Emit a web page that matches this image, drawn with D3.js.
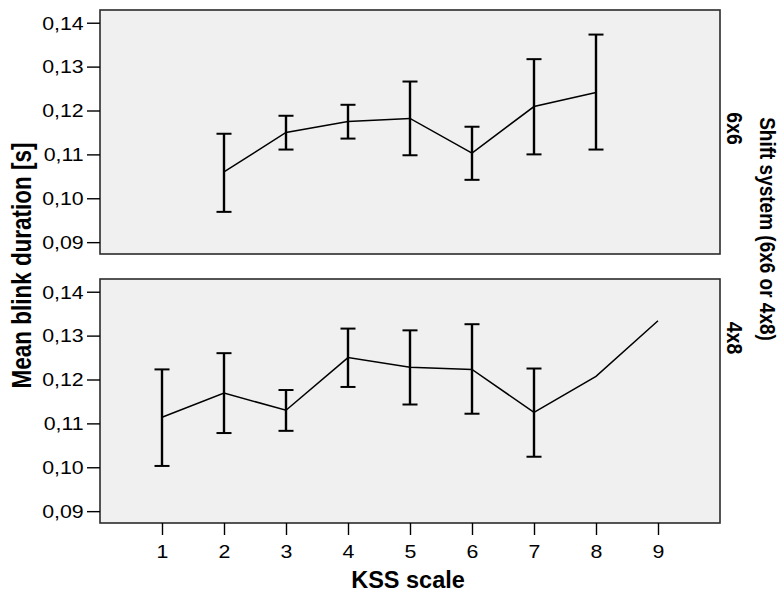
<!DOCTYPE html>
<html>
<head>
<meta charset="utf-8">
<script src="https://cdn.jsdelivr.net/npm/d3@7"></script>
<style>
  body { margin: 0; background: #fff; }
  svg text { font-family: "Liberation Sans", Arial, sans-serif; fill: #000; }
</style>
</head>
<body>
<div id="chart"></div>
<script>
// KSS levels and means / 95% CI per shift system
var kss = [1, 2, 3, 4, 5, 6, 7, 8, 9];
var yTicks = [0.09, 0.10, 0.11, 0.12, 0.13, 0.14];

var kss6x6   = [2, 3, 4, 5, 6, 7, 8];
var mean6x6  = [0.1060, 0.1150, 0.1175, 0.1182, 0.1103, 0.1209, 0.1241];
var lo6x6    = [0.0969, 0.1111, 0.1136, 0.1098, 0.1042, 0.1100, 0.1111];
var hi6x6    = [0.1147, 0.1188, 0.1213, 0.1266, 0.1163, 0.1317, 0.1373];

var kss4x8   = [1, 2, 3, 4, 5, 6, 7, 8, 9];
var mean4x8  = [0.1114, 0.1169, 0.1130, 0.1250, 0.1228, 0.1223, 0.1125, 0.1207, 0.1334];
var lo4x8    = [0.1003, 0.1078, 0.1083, 0.1183, 0.1143, 0.1122, 0.1024, null, null];
var hi4x8    = [0.1223, 0.1260, 0.1176, 0.1316, 0.1312, 0.1326, 0.1225, null, null];

var width = 780, height = 594;
var plotLeft = 100, plotRight = 720;
var panels = [
  {name: '6x6', top: 10, bottom: 254, labelY: 128.5, k: kss6x6, m: mean6x6, lo: lo6x6, hi: hi6x6},
  {name: '4x8', top: 279, bottom: 523, labelY: 338, k: kss4x8, m: mean4x8, lo: lo4x8, hi: hi4x8}
];

var comma = d3.formatLocale({decimal: ',', thousands: '.', grouping: [3], currency: ['', '']});
var fmt = comma.format('.2f');

var svg = d3.select('#chart').append('svg')
  .attr('width', width)
  .attr('height', height);

var x = d3.scaleLinear().domain([0, 10]).range([plotLeft, plotRight]);

panels.forEach(function(p, idx) {
  var y = d3.scaleLinear().domain([0.0873, 0.1429]).range([p.bottom, p.top]);

  svg.append('rect')
    .attr('x', plotLeft)
    .attr('y', p.top)
    .attr('width', plotRight - plotLeft)
    .attr('height', p.bottom - p.top)
    .attr('fill', '#f0f0f0')
    .attr('stroke', '#2b2b2b')
    .attr('stroke-width', 1.6);

  var yAxis = svg.append('g')
    .attr('transform', 'translate(' + plotLeft + ',0)')
    .call(d3.axisLeft(y).tickValues(yTicks).tickSize(13).tickFormat(fmt));
  yAxis.select('.domain').remove();
  yAxis.selectAll('.tick line').attr('stroke', '#000').attr('stroke-width', 1.4);
  yAxis.selectAll('.tick text')
    .attr('x', 0)
    .attr('dy', '0.36em')
    .attr('transform', 'translate(-16.3,0) scale(1.22,1)')
    .style('font-size', '17.5px');

  // mean line
  var pts = p.k.map(function(k, i) { return {k: k, m: p.m[i], lo: p.lo[i], hi: p.hi[i]}; });
  var line = d3.line()
    .x(function(d) { return x(d.k); })
    .y(function(d) { return y(d.m); });

  svg.append('path')
    .datum(pts)
    .attr('d', line)
    .attr('fill', 'none')
    .attr('stroke', '#000')
    .attr('stroke-width', 1.5);

  var bars = svg.append('g').selectAll('g')
    .data(pts.filter(function(d) { return d.lo !== null; }))
    .enter().append('g')
    .attr('stroke', '#000');

  bars.append('line')
    .attr('x1', function(d) { return x(d.k); })
    .attr('x2', function(d) { return x(d.k); })
    .attr('y1', function(d) { return y(d.lo); })
    .attr('y2', function(d) { return y(d.hi); })
    .attr('stroke-width', 2.4);

  ['lo', 'hi'].forEach(function(key) {
    bars.append('line')
      .attr('x1', function(d) { return x(d.k) - 7.5; })
      .attr('x2', function(d) { return x(d.k) + 7.5; })
      .attr('y1', function(d) { return y(d[key]); })
      .attr('y2', function(d) { return y(d[key]); })
      .attr('stroke-width', 2);
  });

  svg.append('text')
    .attr('transform', 'translate(735,' + p.labelY + ') rotate(90) scale(1,1.1)')
    .attr('text-anchor', 'middle')
    .attr('dy', '0.35em')
    .style('font-size', '19.5px')
    .style('font-weight', 'bold')
    .text(p.name);

  if (idx === 1) {
    var xAxis = svg.append('g')
      .attr('transform', 'translate(0,' + p.bottom + ')')
      .call(d3.axisBottom(x).tickValues(kss).tickSize(12).tickFormat(d3.format('d')));
    xAxis.select('.domain').remove();
    xAxis.selectAll('.tick line').attr('stroke', '#000').attr('stroke-width', 1.4);
    xAxis.selectAll('.tick text')
      .attr('y', 22.6)
      .attr('transform', 'scale(1.22,1)')
      .style('font-size', '17.5px');
  }
});

svg.append('text')
  .attr('x', 408)
  .attr('y', 588)
  .attr('text-anchor', 'middle')
  .style('font-size', '23.5px')
  .style('font-weight', 'bold')
  .text('KSS scale');

svg.append('text')
  .attr('transform', 'translate(21,265.5) rotate(-90) scale(1,1.25)')
  .attr('text-anchor', 'middle')
  .attr('dy', '0.35em')
  .style('font-size', '22.5px')
  .style('font-weight', 'bold')
  .text('Mean blink duration [s]');

svg.append('text')
  .attr('transform', 'translate(767.5,229) rotate(90) scale(1,1.12)')
  .attr('text-anchor', 'middle')
  .attr('dy', '0.35em')
  .style('font-size', '19px')
  .style('font-weight', 'bold')
  .text('Shift system (6x6 or 4x8)');
</script>
</body>
</html>
